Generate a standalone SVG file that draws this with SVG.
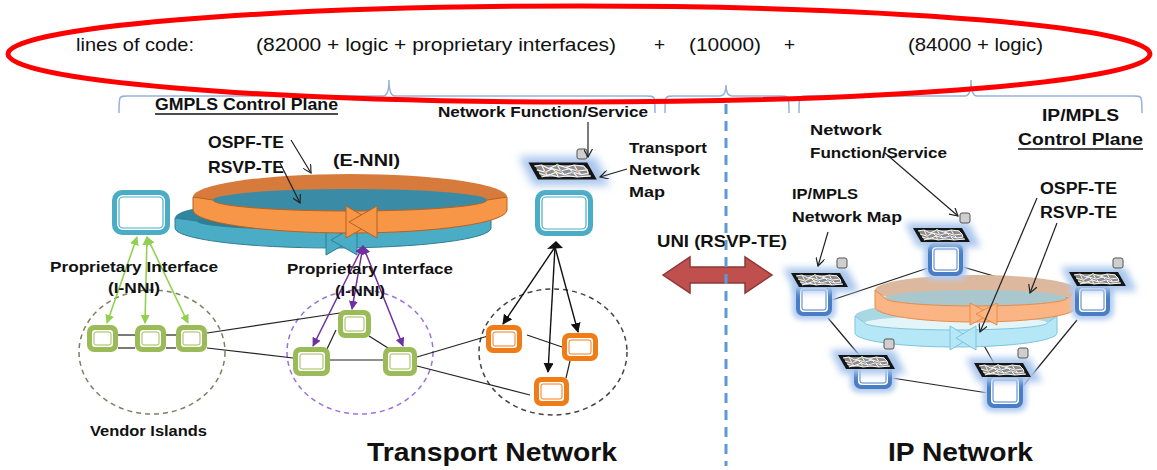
<svg xmlns="http://www.w3.org/2000/svg" xmlns:xlink="http://www.w3.org/1999/xlink" width="1157" height="470" viewBox="0 0 1157 470">
  <style>
    text { font-family: "Liberation Sans", Arial, sans-serif; fill: #111; }
    .b { font-weight: bold; }
    .lbl { font-size: 14px; font-weight: bold; }
    .big { font-size: 26px; font-weight: bold; }
    .top { font-size: 19px; }
    .brace { fill: none; stroke: #95b3d7; stroke-width: 1.5; }
    .ln { stroke: #222; stroke-width: 1.2; fill: none; }
    .ptr { stroke: #222; stroke-width: 1.2; fill: none; marker-end: url(#open); }
    .blk { stroke: #111; stroke-width: 1.4; fill: none; marker-end: url(#solidBlack); }
    .grn { stroke: #92d050; stroke-width: 1.6; fill: none; marker-start: url(#greenHead); marker-end: url(#greenHead); }
    .pur { stroke: #7030a0; stroke-width: 1.5; fill: none; marker-start: url(#purpleHead); marker-end: url(#purpleHead); }
    .isle { fill: none; stroke-width: 1.5; stroke-dasharray: 5 4; }
    .gsq { fill: #cfcfcf; stroke: #555; stroke-width: 1; }
    .mesh { fill: none; stroke: #f4f4f4; stroke-width: 1; }
    .inner { fill: #fff; }
  </style>
  <defs>
    <marker id="open" viewBox="0 0 10 10" refX="9" refY="5" markerWidth="9" markerHeight="9" markerUnits="userSpaceOnUse" orient="auto">
      <path d="M0,0 L9,5 L0,10" fill="none" stroke="#222" stroke-width="1.3"/>
    </marker>
    <marker id="solidBlack" viewBox="0 0 10 10" refX="9" refY="5" markerWidth="10" markerHeight="10" markerUnits="userSpaceOnUse" orient="auto">
      <path d="M0,0 L10,5 L0,10 Z" fill="#111"/>
    </marker>
    <marker id="greenHead" viewBox="0 0 10 10" refX="9" refY="5" markerWidth="9" markerHeight="9" markerUnits="userSpaceOnUse" orient="auto-start-reverse">
      <path d="M0,0 L10,5 L0,10 Z" fill="#92d050"/>
    </marker>
    <marker id="purpleHead" viewBox="0 0 10 10" refX="9" refY="5" markerWidth="9" markerHeight="9" markerUnits="userSpaceOnUse" orient="auto-start-reverse">
      <path d="M0,0 L10,5 L0,10 Z" fill="#7030a0"/>
    </marker>
    <filter id="glow" x="-50%" y="-80%" width="200%" height="260%">
      <feGaussianBlur stdDeviation="3.5"/>
    </filter>
    <filter id="soft" x="-30%" y="-30%" width="160%" height="160%">
      <feGaussianBlur stdDeviation="2.5"/>
    </filter>
    <!-- network map tile: black slanted sheet with a light mesh, haloed in blue -->
    <g id="tile">
      <polygon points="-36,-12 28,-12 40,12 -24,12" fill="#a9c6ec" filter="url(#glow)"/>
      <polygon points="-28,-7 21,-7 29,7 -20,7" fill="#151515"/>
      <polygon points="-23,-5 18,-5 24,5 -17,5" fill="#8c8c8c"/>
      <polyline class="mesh" points="-23,-4 -17,-5 -11,-2 -4,-5 3,-3 10,-5 18,-4"/>
      <polyline class="mesh" points="-21,-1 -14,1 -8,-2 -1,0 6,-2 13,0 21,-1"/>
      <polyline class="mesh" points="-19,2 -12,4 -5,1 2,3 9,1 16,3 22,2"/>
      <polyline class="mesh" points="-17,5 -10,3 -3,5 5,4 13,5 24,4"/>
      <polyline class="mesh" points="-17,-5 -14,1 -12,4"/>
      <polyline class="mesh" points="-11,-2 -8,-2 -5,1 -3,5"/>
      <polyline class="mesh" points="-4,-5 -1,0 2,3"/>
      <polyline class="mesh" points="3,-3 6,-2 9,1 13,5"/>
      <polyline class="mesh" points="10,-5 13,0 16,3"/>
      <polyline class="mesh" points="18,-4 21,-1 22,2"/>
      <circle cx="-14" cy="1" r="1.1" fill="#f4b183"/>
      <circle cx="-1" cy="0" r="1.1" fill="#9dc3e6"/>
      <circle cx="13" cy="0" r="1.1" fill="#f4b183"/>
      <circle cx="-4" cy="-5" r="1.1" fill="#a9d18e"/>
      <circle cx="9" cy="1" r="1.1" fill="#9dc3e6"/>
      <circle cx="-5" cy="1" r="1.1" fill="#ffe699"/>
    </g>
  </defs>

  <rect width="1157" height="470" fill="#fff"/>

  <!-- code size summary across the top -->
  <g id="code-summary">
    <text class="top" x="76" y="51" textLength="118" lengthAdjust="spacingAndGlyphs">lines of code:</text>
    <text class="top" x="256" y="51" textLength="360" lengthAdjust="spacingAndGlyphs">(82000 + logic + proprietary interfaces)</text>
    <text class="top" x="654" y="51">+</text>
    <text class="top" x="689" y="51" textLength="72" lengthAdjust="spacingAndGlyphs">(10000)</text>
    <text class="top" x="784" y="51">+</text>
    <text class="top" x="908" y="51" textLength="135" lengthAdjust="spacingAndGlyphs">(84000 + logic)</text>
    <path class="brace" d="M119,113 C119,96 119,96 127,96 L383,96 Q389,96 389,80 Q389,96 395,96 L647,96 C655,96 655,96 655,113"/>
    <path class="brace" d="M665,113 C665,96 665,96 673,96 L720,96 Q726,96 726,85 Q726,96 732,96 L781,96 C789,96 789,96 789,113"/>
    <path class="brace" d="M799,113 C799,96 799,96 807,96 L965,96 Q971,96 971,80 Q971,96 977,96 L1134,96 C1142,96 1142,96 1142,113"/>
    <ellipse cx="579" cy="54" rx="571" ry="48" fill="none" stroke="#ff0000" stroke-width="5"/>
  </g>

  <!-- section titles -->
  <g id="titles">
    <text class="b" x="155" y="110" font-size="17" textLength="183" lengthAdjust="spacingAndGlyphs">GMPLS Control Plane</text>
    <line x1="155" y1="114" x2="338" y2="114" stroke="#111" stroke-width="1.3"/>
    <text class="b" x="1042" y="121" font-size="16" textLength="77" lengthAdjust="spacingAndGlyphs">IP/MPLS</text>
    <text class="b" x="1018" y="145" font-size="16" textLength="125" lengthAdjust="spacingAndGlyphs">Control Plane</text>
    <line x1="1018" y1="149" x2="1143" y2="149" stroke="#111" stroke-width="1.3"/>
    <text class="big" x="367" y="461" textLength="250" lengthAdjust="spacingAndGlyphs">Transport Network</text>
    <text class="big" x="888" y="461" textLength="145" lengthAdjust="spacingAndGlyphs">IP Network</text>
  </g>

  <!-- UNI between the two domains -->
  <g id="uni">
    <polygon points="663,275 690,257 690,267 745,267 745,257 772,275 745,293 745,283 690,283 690,293" fill="#c0504d" stroke="#8c3836" stroke-width="1.5"/>
    <text class="b" x="657" y="247" font-size="17" textLength="130" lengthAdjust="spacingAndGlyphs">UNI (RSVP-TE)</text>
    <line x1="726" y1="104" x2="726" y2="466" stroke="#5b9bd5" stroke-width="3" stroke-dasharray="10 7"/>
  </g>

  <!-- island outlines -->
  <g id="islands">
    <ellipse class="isle" cx="152" cy="352" rx="73" ry="62" stroke="#7f7f60"/>
    <ellipse class="isle" cx="360" cy="352" rx="73" ry="62" stroke="#a070d8"/>
    <ellipse class="isle" cx="553" cy="352" rx="74" ry="63" stroke="#444"/>
    <text class="lbl" x="90" y="436" textLength="117" lengthAdjust="spacingAndGlyphs">Vendor Islands</text>
  </g>

  <!-- links and pointers -->
  <g id="connectors">
    <!-- transport data plane links -->
    <line class="ln" x1="118" y1="335" x2="135" y2="335"/>
    <line class="ln" x1="118" y1="348" x2="135" y2="348"/>
    <line class="ln" x1="166" y1="335" x2="176" y2="335"/>
    <line class="ln" x1="166" y1="348" x2="176" y2="348"/>
    <line class="ln" x1="207" y1="333" x2="340" y2="313"/>
    <line class="ln" x1="207" y1="348" x2="293" y2="358"/>
    <line class="ln" x1="336" y1="330" x2="327" y2="349"/>
    <line class="ln" x1="369" y1="336" x2="388" y2="348"/>
    <line class="ln" x1="330" y1="360" x2="383" y2="360"/>
    <line class="ln" x1="417" y1="357" x2="488" y2="336"/>
    <line class="ln" x1="417" y1="366" x2="530" y2="395"/>
    <line class="ln" x1="527" y1="335" x2="565" y2="348"/>
    <line class="ln" x1="570" y1="361" x2="566" y2="378"/>
    <!-- IP links -->
    <line class="ln" x1="832" y1="300" x2="928" y2="268"/>
    <line class="ln" x1="963" y1="267" x2="1076" y2="300"/>
    <line class="ln" x1="945" y1="276" x2="1000" y2="374"/>
    <line class="ln" x1="828" y1="318" x2="860" y2="356"/>
    <line class="ln" x1="892" y1="378" x2="988" y2="393"/>
    <line class="ln" x1="1077" y1="320" x2="1018" y2="392"/>
  </g>

  <!-- GMPLS control ring (E-NNI): blue ring underneath, orange ring on top -->
  <g id="gmpls-ring">
    <ellipse cx="333" cy="218" rx="158" ry="20" fill="#31859c"/>
    <ellipse cx="333" cy="221" rx="136" ry="9" fill="#2e7f96"/>
    <path d="M175,218 L175,228 A158,20 0 0 0 491,228 L491,218 L469,221 A136,9 0 0 1 197,221 Z" fill="#4bacc6" stroke="#2f7f95" stroke-width="1"/>
    <polygon points="326,225 352,240 326,255" fill="#4bacc6" stroke="#2f7f95" stroke-width="1"/>
    <polygon points="357,225 331,240 357,255" fill="#4bacc6" stroke="#2f7f95" stroke-width="1"/>
    <ellipse cx="350" cy="197" rx="157" ry="23" fill="#d67b3b"/>
    <ellipse cx="350" cy="200" rx="137" ry="11" fill="#3a8ca6"/>
    <path d="M193,197 L193,210 A157,23 0 0 0 507,210 L507,197 L487,200 A137,11 0 0 1 213,200 Z" fill="#f79646" stroke="#b9611f" stroke-width="1"/>
    <polygon points="346,206 374,222 346,238" fill="#f79646" stroke="#b9611f" stroke-width="1"/>
    <polygon points="377,206 349,222 377,238" fill="#f79646" stroke="#b9611f" stroke-width="1"/>
    <text class="b" x="333" y="166" font-size="17" textLength="67" lengthAdjust="spacingAndGlyphs">(E-NNI)</text>
    <text class="b" x="208" y="148" font-size="17" textLength="76" lengthAdjust="spacingAndGlyphs">OSPF-TE</text>
    <text class="b" x="208" y="173" font-size="17" textLength="76" lengthAdjust="spacingAndGlyphs">RSVP-TE</text>
    <line class="ptr" x1="291" y1="140" x2="311" y2="173"/>
    <line class="ptr" x1="280" y1="163" x2="300" y2="203"/>
  </g>

  <!-- IP/MPLS control ring -->
  <g id="mpls-ring">
    <ellipse cx="956" cy="316" rx="101" ry="14" fill="#a9d8e2"/>
    <ellipse cx="956" cy="323" rx="91" ry="7" fill="#e4f5fa"/>
    <path d="M855,316 L855,333 A101,14 0 0 0 1057,333 L1057,316 L1047,323 A91,7 0 0 1 865,323 Z" fill="#b6e7f6" stroke="#7fc4dc" stroke-width="1"/>
    <polygon points="950,326 970,338 950,350" fill="#b6e7f6" stroke="#7fc4dc" stroke-width="1"/>
    <polygon points="976,326 956,338 976,350" fill="#b6e7f6" stroke="#7fc4dc" stroke-width="1"/>
    <ellipse cx="976" cy="290" rx="101" ry="15" fill="#dcb89e"/>
    <ellipse cx="976" cy="298" rx="91" ry="8" fill="#a9c7cc"/>
    <path d="M875,290 L875,307 A101,15 0 0 0 1077,307 L1077,290 L1067,298 A91,8 0 0 1 885,298 Z" fill="#fbb584" stroke="#e98a45" stroke-width="1"/>
    <polygon points="970,303 991,314 970,325" fill="#fbb584" stroke="#e98a45" stroke-width="1"/>
    <polygon points="997,303 976,314 997,325" fill="#fbb584" stroke="#e98a45" stroke-width="1"/>
  </g>

  <!-- transport control nodes -->
  <g id="ctrl-left">
    <rect x="112" y="190" width="58" height="45" rx="10" fill="#4bacc6"/>
    <rect x="117" y="195" width="48" height="35" rx="6" class="inner"/>
    <rect x="119" y="197" width="44" height="31" rx="4" fill="#fff" stroke="#4bacc6" stroke-width="1.2"/>
  </g>
  <g id="ctrl-right">
    <rect x="535" y="190" width="58" height="46" rx="10" fill="#4bacc6"/>
    <rect x="540" y="195" width="48" height="36" rx="6" class="inner"/>
    <rect x="542" y="197" width="44" height="32" rx="4" fill="#fff" stroke="#4bacc6" stroke-width="1.2"/>
  </g>

  <!-- transport network map and service -->
  <g id="transport-map">
    <use xlink:href="#tile" transform="translate(562,171) scale(1.2)"/>
    <rect class="gsq" x="577" y="149" width="10" height="10" rx="2"/>
    <text class="b" x="438" y="117" font-size="14" textLength="210" lengthAdjust="spacingAndGlyphs">Network Function/Service</text>
    <line class="ptr" x1="588" y1="122" x2="588" y2="157"/>
    <text class="lbl" x="629" y="153" textLength="78" lengthAdjust="spacingAndGlyphs">Transport</text>
    <text class="lbl" x="629" y="175" textLength="71" lengthAdjust="spacingAndGlyphs">Network</text>
    <text class="lbl" x="629" y="197" textLength="36" lengthAdjust="spacingAndGlyphs">Map</text>
    <line class="ptr" x1="627" y1="169" x2="600" y2="177"/>
  </g>

  <!-- proprietary interfaces (I-NNI) -->
  <g id="inni">
    <line class="grn" x1="137" y1="237" x2="107" y2="323"/>
    <line class="grn" x1="147" y1="237" x2="145" y2="323"/>
    <line class="grn" x1="147" y1="237" x2="188" y2="323"/>
    <line class="pur" x1="363" y1="246" x2="313" y2="346"/>
    <line class="pur" x1="363" y1="246" x2="352" y2="309"/>
    <line class="pur" x1="363" y1="246" x2="403" y2="346"/>
    <text class="lbl" x="50" y="272" textLength="168" lengthAdjust="spacingAndGlyphs">Proprietary Interface</text>
    <text class="lbl" x="108" y="293" textLength="52" lengthAdjust="spacingAndGlyphs">(I-NNI)</text>
    <text class="lbl" x="287" y="274" textLength="166" lengthAdjust="spacingAndGlyphs">Proprietary Interface</text>
    <text class="lbl" x="335" y="296" textLength="50" lengthAdjust="spacingAndGlyphs">(I-NNI)</text>
    <!-- E-NNI controller fan-out -->
    <line class="blk" x1="555" y1="247" x2="503" y2="324"/>
    <line class="blk" x1="555" y1="247" x2="548" y2="372"/>
    <line class="blk" x1="555" y1="247" x2="578" y2="332"/>
    <polygon points="547,249 556,241 563,248" fill="#111"/>
  </g>

  <!-- vendor island nodes -->
  <g id="g1"><rect x="87" y="325" width="31" height="27" rx="7" fill="#9bbb59"/><rect x="92" y="330" width="21" height="17" rx="3" class="inner"/><rect x="94" y="332" width="17" height="13" rx="2" fill="#fff" stroke="#9bbb59"/></g>
  <g id="g2"><rect x="135" y="325" width="31" height="27" rx="7" fill="#9bbb59"/><rect x="140" y="330" width="21" height="17" rx="3" class="inner"/><rect x="142" y="332" width="17" height="13" rx="2" fill="#fff" stroke="#9bbb59"/></g>
  <g id="g3"><rect x="176" y="325" width="31" height="27" rx="7" fill="#9bbb59"/><rect x="181" y="330" width="21" height="17" rx="3" class="inner"/><rect x="183" y="332" width="17" height="13" rx="2" fill="#fff" stroke="#9bbb59"/></g>
  <g id="g4"><rect x="338" y="310" width="33" height="28" rx="7" fill="#9bbb59"/><rect x="343" y="315" width="23" height="18" rx="3" class="inner"/><rect x="345" y="317" width="19" height="14" rx="2" fill="#fff" stroke="#9bbb59"/></g>
  <g id="g5"><rect x="293" y="347" width="37" height="29" rx="7" fill="#9bbb59"/><rect x="298" y="352" width="27" height="19" rx="3" class="inner"/><rect x="300" y="354" width="23" height="15" rx="2" fill="#fff" stroke="#9bbb59"/></g>
  <g id="g6"><rect x="383" y="347" width="34" height="29" rx="7" fill="#9bbb59"/><rect x="388" y="352" width="24" height="19" rx="3" class="inner"/><rect x="390" y="354" width="20" height="15" rx="2" fill="#fff" stroke="#9bbb59"/></g>
  <g id="o1"><rect x="486" y="325" width="36" height="28" rx="7" fill="#f07c18"/><rect x="491" y="330" width="26" height="18" rx="3" class="inner"/><rect x="493" y="332" width="22" height="14" rx="2" fill="#fff" stroke="#f07c18"/></g>
  <g id="o2"><rect x="562" y="333" width="36" height="28" rx="7" fill="#f07c18"/><rect x="567" y="338" width="26" height="18" rx="3" class="inner"/><rect x="569" y="340" width="22" height="14" rx="2" fill="#fff" stroke="#f07c18"/></g>
  <g id="o3"><rect x="534" y="377" width="35" height="29" rx="7" fill="#f07c18"/><rect x="539" y="382" width="25" height="19" rx="3" class="inner"/><rect x="541" y="384" width="21" height="15" rx="2" fill="#fff" stroke="#f07c18"/></g>

  <!-- IP routers, each with its network map -->
  <g id="r1">
    <rect x="792" y="280" width="44" height="40" rx="9" fill="#b4cdf0" filter="url(#soft)"/>
    <rect x="796" y="284" width="36" height="32" rx="7" fill="#4a7ec4"/><rect x="800" y="288" width="28" height="24" rx="4" class="inner"/><rect x="802" y="290" width="24" height="20" rx="2" fill="#fff" stroke="#4a7ec4"/>
    <use xlink:href="#tile" transform="translate(819,280)"/>
    <rect class="gsq" x="837" y="258" width="10" height="10" rx="2"/>
  </g>
  <g id="r2">
    <rect x="924" y="239" width="43" height="41" rx="9" fill="#b4cdf0" filter="url(#soft)"/>
    <rect x="928" y="243" width="35" height="33" rx="7" fill="#4a7ec4"/><rect x="932" y="247" width="27" height="25" rx="4" class="inner"/><rect x="934" y="249" width="23" height="21" rx="2" fill="#fff" stroke="#4a7ec4"/>
    <use xlink:href="#tile" transform="translate(941,235)"/>
    <rect class="gsq" x="960" y="213" width="10" height="10" rx="2"/>
  </g>
  <g id="r3">
    <rect x="1071" y="280" width="43" height="40" rx="9" fill="#b4cdf0" filter="url(#soft)"/>
    <rect x="1075" y="284" width="35" height="32" rx="7" fill="#4a7ec4"/><rect x="1079" y="288" width="27" height="24" rx="4" class="inner"/><rect x="1081" y="290" width="23" height="20" rx="2" fill="#fff" stroke="#4a7ec4"/>
    <use xlink:href="#tile" transform="translate(1097,279)"/>
    <rect class="gsq" x="1113" y="258" width="10" height="10" rx="2"/>
  </g>
  <g id="r4">
    <rect x="850" y="358" width="46" height="35" rx="9" fill="#b4cdf0" filter="url(#soft)"/>
    <rect x="854" y="362" width="38" height="27" rx="7" fill="#4a7ec4"/><rect x="858" y="366" width="30" height="19" rx="4" class="inner"/><rect x="860" y="368" width="26" height="15" rx="2" fill="#fff" stroke="#4a7ec4"/>
    <use xlink:href="#tile" transform="translate(866,362)"/>
    <rect class="gsq" x="884" y="339" width="10" height="10" rx="2"/>
  </g>
  <g id="r5">
    <rect x="983" y="370" width="44" height="42" rx="9" fill="#b4cdf0" filter="url(#soft)"/>
    <rect x="987" y="374" width="36" height="34" rx="7" fill="#4a7ec4"/><rect x="991" y="378" width="28" height="26" rx="4" class="inner"/><rect x="993" y="380" width="24" height="22" rx="2" fill="#fff" stroke="#4a7ec4"/>
    <use xlink:href="#tile" transform="translate(1002,370)"/>
    <rect class="gsq" x="1018" y="348" width="10" height="10" rx="2"/>
  </g>

  <!-- IP side labels and pointers -->
  <g id="ip-labels">
    <text class="lbl" x="810" y="135" textLength="72" lengthAdjust="spacingAndGlyphs">Network</text>
    <text class="lbl" x="810" y="158" textLength="137" lengthAdjust="spacingAndGlyphs">Function/Service</text>
    <line class="ptr" x1="885" y1="153" x2="958" y2="216"/>
    <text class="lbl" x="792" y="199" textLength="66" lengthAdjust="spacingAndGlyphs">IP/MPLS</text>
    <text class="lbl" x="792" y="222" textLength="110" lengthAdjust="spacingAndGlyphs">Network Map</text>
    <line class="ptr" x1="828" y1="232" x2="818" y2="266"/>
    <text class="b" x="1040" y="194" font-size="16" textLength="77" lengthAdjust="spacingAndGlyphs">OSPF-TE</text>
    <text class="b" x="1040" y="218" font-size="16" textLength="77" lengthAdjust="spacingAndGlyphs">RSVP-TE</text>
    <line class="ptr" x1="1037" y1="198" x2="980" y2="332"/>
    <line class="ptr" x1="1057" y1="223" x2="1030" y2="293"/>
  </g>
</svg>
